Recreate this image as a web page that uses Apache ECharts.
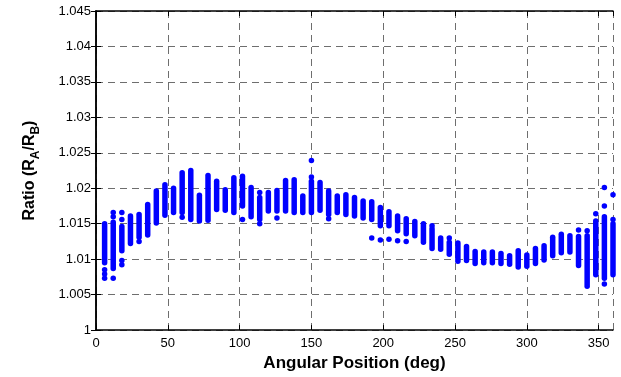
<!DOCTYPE html>
<html>
<head>
<meta charset="utf-8">
<script src="https://cdn.jsdelivr.net/npm/echarts@6/dist/echarts.min.js"></script>
<style>
  html, body { margin: 0; padding: 0; background: #fff; }
</style>
</head>
<body>
<div id="ScatterChart" style="width: 621px; height: 377px;"></div>
<script>
// angular positions (deg) of each measurement column
const angles = [6, 12, 18, 24, 30, 36, 42, 48, 54, 60, 66, 72, 78, 84, 90, 96, 102, 108, 114, 120,
  126, 132, 138, 144, 150, 156, 162, 168, 174, 180, 186, 192, 198, 204, 210, 216, 222, 228, 234, 240,
  246, 252, 258, 264, 270, 276, 282, 288, 294, 300, 306, 312, 318, 324, 330, 336, 342, 348, 354, 360];
// dense part of each column: lowest and highest ratio
const lows = [1.0095, 1.0087, 1.0112, 1.0122, 1.0131, 1.0134, 1.0151, 1.0162, 1.0166, 1.0166,
  1.0156, 1.0154, 1.0155, 1.0170, 1.0169, 1.0166, 1.0175, 1.0160, 1.0156, 1.0168,
  1.0168, 1.0168, 1.0166, 1.0166, 1.0166, 1.0169, 1.0163, 1.0166, 1.0163, 1.0161,
  1.0158, 1.0156, 1.0147, 1.0147, 1.0140, 1.0136, 1.0133, 1.0124, 1.0115, 1.0114,
  1.0107, 1.0097, 1.0098, 1.0094, 1.0095, 1.0095, 1.0094, 1.0093, 1.0089, 1.0090,
  1.0094, 1.0099, 1.0105, 1.0109, 1.0110, 1.0091, 1.0062, 1.0078, 1.0073, 1.0078];
const highs = [1.0150, 1.0152, 1.0146, 1.0161, 1.0163, 1.0177, 1.0196, 1.0205, 1.0200, 1.0222,
  1.0225, 1.0190, 1.0218, 1.0210, 1.0198, 1.0215, 1.0217, 1.0201, 1.0187, 1.0194,
  1.0197, 1.0211, 1.0212, 1.0189, 1.0210, 1.0208, 1.0196, 1.0189, 1.0191, 1.0187,
  1.0182, 1.0181, 1.0173, 1.0167, 1.0161, 1.0157, 1.0153, 1.0150, 1.0143, 1.0130,
  1.0124, 1.0123, 1.0118, 1.0111, 1.0110, 1.0110, 1.0108, 1.0105, 1.0112, 1.0106,
  1.0115, 1.0119, 1.0131, 1.0135, 1.0133, 1.0132, 1.0133, 1.0154, 1.0160, 1.0150];
// isolated points outside the dense part
const dotAngles = [6, 6, 6, 12, 12, 12, 18, 18, 18, 18, 30, 60, 102, 114, 114, 126, 150, 150, 162,
  192, 198, 204, 210, 216, 234, 246, 336, 342, 348, 354, 354, 354, 360, 360];
const dotValues = [1.0085, 1.0079, 1.0073, 1.0166, 1.0160, 1.0073, 1.0166, 1.0156, 1.0098, 1.0092,
  1.0125, 1.0159, 1.0156, 1.0194, 1.0150, 1.0158, 1.0239, 1.0216, 1.0157,
  1.0130, 1.0127, 1.0128, 1.0126, 1.0125, 1.0147, 1.0130, 1.0141, 1.0140, 1.0164, 1.0201, 1.0175, 1.0065,
  1.0191, 1.0156];
const xTicks = [0, 50, 100, 150, 200, 250, 300, 350];

const segData = angles.map((a, i) => [a, lows[i], highs[i]]);
const dotData = dotAngles.map((a, i) => [a, dotValues[i]]);

const chart = echarts.init(document.getElementById('ScatterChart'));
const fontFamily = 'Liberation Sans, Arial, Helvetica, sans-serif';
const gridLine = { show: true, lineStyle: { color: '#6e6e6e', type: [7, 5], width: 1 } };
const frame = { show: true, lineStyle: { color: '#000', width: 1.5 } };
const fmtY = v => parseFloat(v.toFixed(3)).toString();

const option = {
  animation: false,
  grid: { left: 96, right: 8, top: 11, bottom: 43 },
  xAxis: [
    {
      type: 'value', min: 0, max: 360, interval: 50,
      axisLine: frame,
      axisTick: { show: true, inside: true, length: 5, lineStyle: { color: '#000' } },
      axisLabel: { color: '#000', fontSize: 13, fontFamily, margin: 7, showMaxLabel: false,
        formatter: v => (xTicks.indexOf(v) >= 0 ? String(v) : '') },
      splitLine: gridLine,
      name: 'Angular Position (deg)', nameLocation: 'middle', nameGap: 20,
      nameTextStyle: { color: '#000', fontSize: 17, fontWeight: 'bold', fontFamily }
    },
    {
      type: 'value', position: 'top', min: 0, max: 360, interval: 50,
      axisLine: frame,
      axisTick: { show: true, inside: true, length: 5, lineStyle: { color: '#000' } },
      axisLabel: { show: false }, splitLine: { show: false }
    }
  ],
  yAxis: [
    {
      type: 'value', min: 1, max: 1.045, interval: 0.005,
      axisLine: frame,
      axisTick: { show: true, inside: true, length: 5, lineStyle: { color: '#000' } },
      axisLabel: { color: '#000', fontSize: 13, fontFamily, margin: 5, formatter: fmtY },
      splitLine: gridLine,
      name: '{t|Ratio (R}{s|A}{t|/R}{s|B}{t|)}', nameLocation: 'middle', nameGap: 56, nameRotate: 90,
      nameTextStyle: {
        rich: {
          t: { color: '#000', fontSize: 16, fontWeight: 'bold', fontFamily, lineHeight: 20 },
          s: { color: '#000', fontSize: 12, fontWeight: 'bold', fontFamily, padding: [12, 0, 0, 0], lineHeight: 20 }
        }
      }
    },
    {
      type: 'value', position: 'right', min: 1, max: 1.045, interval: 0.005,
      axisLine: frame,
      axisTick: { show: true, inside: true, length: 5, lineStyle: { color: '#000' } },
      axisLabel: { show: false }, splitLine: { show: false }
    }
  ],
  series: [
    {
      name: 'columns',
      type: 'custom',
      xAxisIndex: 0, yAxisIndex: 0,
      data: segData,
      renderItem: function (params, api) {
        const p1 = api.coord([api.value(0), api.value(1)]);
        const p2 = api.coord([api.value(0), api.value(2)]);
        return {
          type: 'line',
          shape: { x1: p1[0], y1: p1[1], x2: p2[0], y2: p2[1] },
          style: { stroke: '#0000ff', lineWidth: 5.5, lineCap: 'round' }
        };
      }
    },
    {
      name: 'points',
      type: 'scatter',
      xAxisIndex: 0, yAxisIndex: 0,
      symbolSize: 5.5,
      itemStyle: { color: '#0000ff', opacity: 1 },
      data: dotData
    }
  ]
};
chart.setOption(option);
</script>
</body>
</html>
